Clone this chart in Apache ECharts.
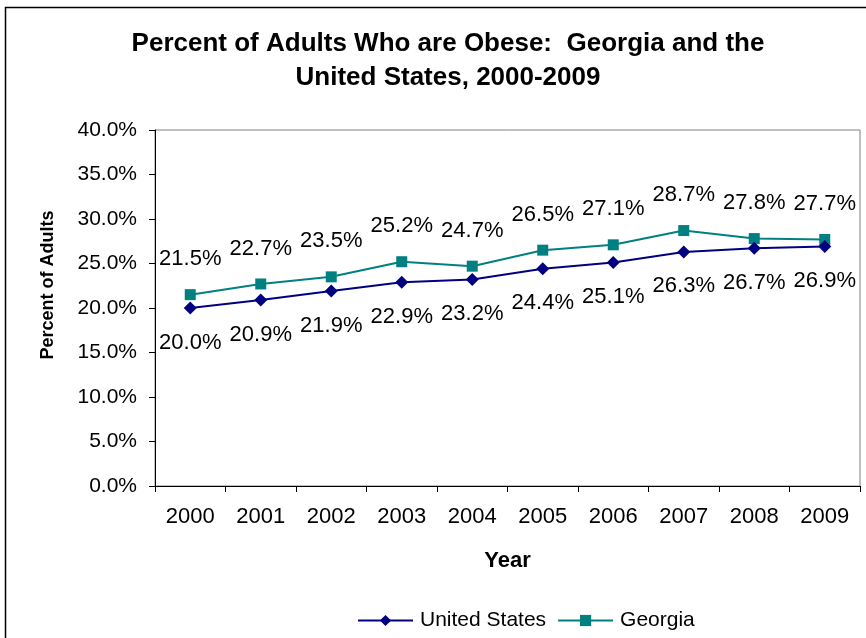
<!DOCTYPE html>
<html>
<head>
<meta charset="utf-8">
<script src="https://cdn.jsdelivr.net/npm/echarts@6/dist/echarts.min.js"></script>
<style>
  html, body { margin: 0; padding: 0; background: #fff; }
  #chart { width: 866px; height: 638px; }
</style>
</head>
<body>
<div id="chart"></div>
<script>
// Adult obesity rates (%), 2000-2009
const years = ['2000', '2001', '2002', '2003', '2004', '2005', '2006', '2007', '2008', '2009'];
const unitedStates = [20.0, 20.9, 21.9, 22.9, 23.2, 24.4, 25.1, 26.3, 26.7, 26.9];
const georgia = [21.5, 22.7, 23.5, 25.2, 24.7, 26.5, 27.1, 28.7, 27.8, 27.7];

const FONT = '"Liberation Sans", Arial, sans-serif';
const pct = v => v.toFixed(1) + '%';

const chart = echarts.init(document.getElementById('chart'), null, { renderer: 'canvas' });

chart.setOption({
  backgroundColor: '#ffffff',
  animation: false,
  textStyle: { fontFamily: FONT },
  title: {
    text: 'Percent of Adults Who are Obese:  Georgia and the\nUnited States, 2000-2009',
    left: 443,
    top: 22,
    textAlign: 'center',
    textStyle: { fontFamily: FONT, fontWeight: 'bold', fontSize: 26, color: '#000', lineHeight: 34 }
  },
  graphic: [
    {
      type: 'rect',
      shape: { x: 5.5, y: 7.5, width: 900, height: 700 },
      style: { fill: 'none', stroke: '#000', lineWidth: 1.5 },
      silent: true, z: -1
    },
    {
      type: 'text',
      x: 48, y: 285,
      rotation: Math.PI / 2,
      style: {
        text: 'Percent of Adults',
        fontFamily: FONT, fontWeight: 'bold', fontSize: 18, fill: '#000',
        align: 'center', verticalAlign: 'middle'
      }
    }
  ],
  legend: {
    data: ['United States', 'Georgia'],
    left: 357,
    top: 610,
    padding: 0,
    itemWidth: 55,
    itemHeight: 14,
    itemGap: 11,
    textStyle: { fontFamily: FONT, fontSize: 21, color: '#000', padding: [0, 0, 0, 2] }
  },
  grid: { left: 155, right: 6, top: 130, bottom: 152, show: true, borderColor: '#808080', borderWidth: 1, backgroundColor: 'transparent' },
  xAxis: {
    type: 'category',
    data: years,
    boundaryGap: true,
    name: 'Year',
    nameLocation: 'middle',
    nameGap: 64,
    nameTextStyle: { fontFamily: FONT, fontWeight: 'bold', fontSize: 22, color: '#000' },
    axisLine: { lineStyle: { color: '#000', width: 1 } },
    axisTick: { show: true, inside: false, length: 6, alignWithLabel: false, lineStyle: { color: '#000' } },
    axisLabel: { fontFamily: FONT, fontSize: 22, color: '#000', margin: 20 },
    splitLine: { show: false }
  },
  yAxis: {
    type: 'value',
    min: 0,
    max: 40,
    interval: 5,
    axisLine: { show: true, lineStyle: { color: '#000', width: 1 } },
    axisTick: { show: true, inside: false, length: 6, lineStyle: { color: '#000' } },
    axisLabel: { fontFamily: FONT, fontSize: 21, color: '#000', margin: 18, formatter: pct },
    splitLine: { show: false }
  },
  series: [
    {
      name: 'United States',
      type: 'line',
      data: unitedStates,
      symbol: 'diamond',
      symbolSize: 13,
      itemStyle: { color: '#000080' },
      lineStyle: { color: '#000080', width: 2 },
      label: {
        show: true, position: 'bottom', distance: 17,
        fontFamily: FONT, fontSize: 22, color: '#000',
        formatter: p => pct(p.value)
      },
      z: 3
    },
    {
      name: 'Georgia',
      type: 'line',
      data: georgia,
      symbol: 'rect',
      symbolSize: 11,
      itemStyle: { color: '#008080' },
      lineStyle: { color: '#008080', width: 2 },
      label: {
        show: true, position: 'top', distance: 19,
        fontFamily: FONT, fontSize: 22, color: '#000',
        formatter: p => pct(p.value)
      },
      z: 2
    }
  ]
});
</script>
</body>
</html>
